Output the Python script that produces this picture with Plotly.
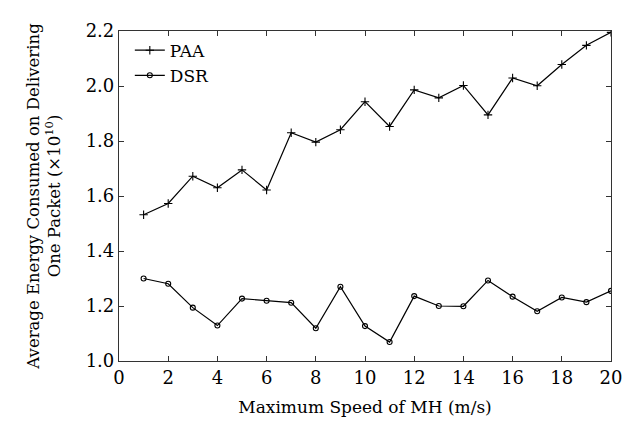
import plotly.graph_objects as go

speed = list(range(1, 21))
paa = [1.532, 1.573, 1.672, 1.630, 1.695, 1.622, 1.830, 1.796, 1.841, 1.943,
       1.853, 1.986, 1.957, 2.002, 1.895, 2.029, 2.001, 2.078, 2.148, 2.195]
dsr = [1.300, 1.281, 1.194, 1.129, 1.227, 1.219, 1.212, 1.119, 1.270, 1.127,
       1.069, 1.236, 1.200, 1.199, 1.293, 1.234, 1.181, 1.231, 1.214, 1.255]
x_ticks = [0, 2, 4, 6, 8, 10, 12, 14, 16, 18, 20]
y_ticks = [1.0, 1.2, 1.4, 1.6, 1.8, 2.0, 2.2]

FONT = "DejaVu Serif"

fig = go.Figure()
fig.add_trace(go.Scatter(
    x=speed, y=paa, name="PAA", mode="lines+markers",
    line=dict(color="black", width=1.2),
    marker=dict(symbol="cross-thin", size=6, color="black",
                line=dict(color="black", width=1.1)),
))
fig.add_trace(go.Scatter(
    x=speed, y=dsr, name="DSR", mode="lines+markers",
    line=dict(color="black", width=1.2),
    marker=dict(symbol="circle-open", size=5, color="black",
                line=dict(color="black", width=1.1)),
))

axis_common = dict(
    showline=True, linecolor="#333", linewidth=1.2, mirror="ticks",
    ticks="inside", ticklen=5, tickcolor="#333", showgrid=False, zeroline=False,
    tickfont=dict(family=FONT, size=18, color="black"),
)

fig.update_layout(
    width=634, height=421,
    margin=dict(l=111, r=31, t=12, b=68),
    paper_bgcolor="white", plot_bgcolor="white",
    font=dict(family=FONT, color="black"),
    showlegend=True,
    legend=dict(x=0.022, y=0.995, xanchor="left", yanchor="top",
                bgcolor="rgba(0,0,0,0)", font=dict(family=FONT, size=17),
                tracegroupgap=0, itemwidth=30),
    xaxis=dict(range=[0, 20.0001], tickvals=x_ticks, ticktext=[str(v) for v in x_ticks],
               title=dict(text="Maximum Speed of MH (m/s)", font=dict(family=FONT, size=17),
                          standoff=14),
               **axis_common),
    yaxis=dict(range=[1.0, 2.2001], tickvals=y_ticks, ticktext=[f"{v:.1f}" for v in y_ticks],
               title=dict(text="Average Energy Consumed on Delivering<br>One Packet (×10<sup>10</sup>)",
                          font=dict(family=FONT, size=16.5), standoff=20),
               **axis_common),
)

fig.write_html("out.html")
